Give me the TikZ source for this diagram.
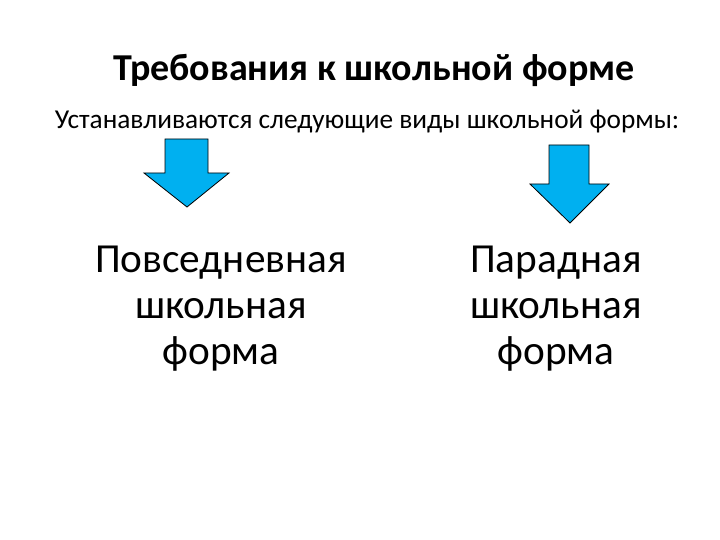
\documentclass[tikz,border=0pt]{standalone}
\usepackage{fontspec}
\setmainfont{Carlito}
\begin{document}
\begin{tikzpicture}[x=1pt,y=-1pt,
  arrowshape/.style={fill={rgb,255:red,0;green,176;blue,240}, draw=black, line width=0.8pt, line join=miter},
  txt/.style={inner sep=0pt, align=center}]
\useasboundingbox (0,0) rectangle (720,540);
\node[txt, font=\fontsize{38}{44}\selectfont\bfseries] (title) at (374,70) {Требования к школьной форме};
\node[txt, font=\fontsize{27.3}{32}\selectfont] (sub) at (367,122) {Устанавливаются следующие виды школьной формы:};
\draw[arrowshape] (165,139) -- (208,139) -- (208,173) -- (229,173) -- (187,207) -- (144,173) -- (165,173) -- cycle;
\draw[arrowshape] (549,145) -- (589,145) -- (589,184) -- (609,184) -- (570,223) -- (530,184) -- (549,184) -- cycle;
\node[txt, font=\fontsize{41.3}{46}\selectfont] (left) at (221,309) {Повседневная\\школьная\\форма};
\node[txt, font=\fontsize{41.3}{46}\selectfont] (right) at (556,309) {Парадная\\школьная\\форма};
\end{tikzpicture}
\end{document}
